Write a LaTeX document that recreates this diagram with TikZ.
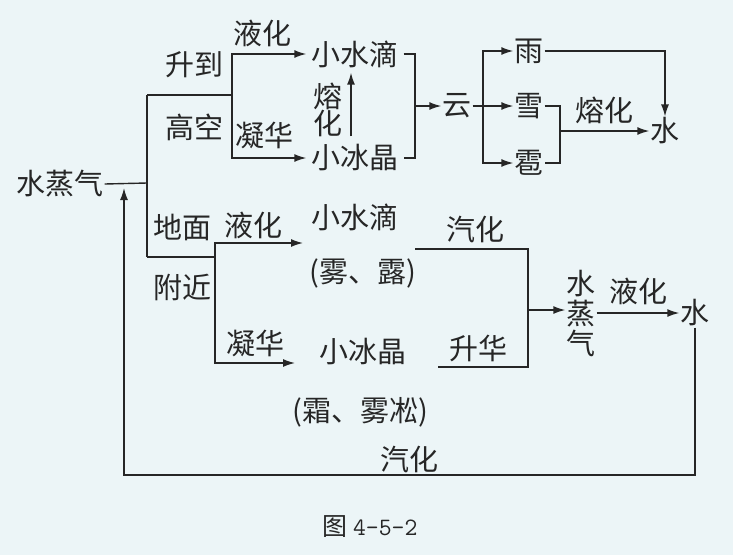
\documentclass[tikz,border=0pt]{standalone}
\usepackage{fontspec}
\usepackage{xcolor}
\usepackage{tikz}
\usetikzlibrary{arrows.meta, positioning}
\newfontfamily\cjk{Noto Sans CJK SC}
\definecolor{paper}{RGB}{236,245,247}
\definecolor{ink}{RGB}{38,38,38}

\begin{document}
\begin{tikzpicture}[
    x=1pt, y=-1pt,
    font=\cjk\fontsize{29}{31}\selectfont,
    every node/.style={text=ink, inner sep=1pt},
    term/.style={inner xsep=5pt},
    single/.style={inner xsep=1pt},
    lbl/.style={inner sep=0pt},
    column/.style={align=center, inner xsep=1pt},
    ln/.style={draw=ink, line width=1.4pt},
    arr/.style={ln, -{Latex[length=12pt, width=8pt]}},
]
\fill[paper] (0,0) rectangle (733,555);
\useasboundingbox (0,0) rectangle (733,555);

\node (vapA) at (60,184) {水蒸气};
\coordinate (trunk) at (147,183);
\coordinate (vapTip) at (124,183);
\coordinate (highA) at (147,95);
\coordinate (groundA) at (147,257);
\draw[ln] (vapA.east) -- (trunk);
\draw[ln] (highA) -- (groundA);

% high sky
\coordinate (highB) at (232,95);
\node[term] (dropA) at (355,54) {小水滴};
\node[term] (iceA) at (355,158) {小冰晶};
\draw[ln] (highA) -- (highB);
\draw[arr] (highB) |- (dropA.west);
\draw[arr] (highB) |- (iceA.west);
\draw[arr, shorten <=7pt, shorten >=4pt] ([xshift=-4pt]iceA.north) -- ([xshift=-4pt]dropA.south);
\node[lbl, font=\cjk\fontsize{29}{27}\selectfont, align=center] (meltA) at (328,110) {熔\\化};

\node[lbl] (upA) at (194,65) {升到};
\node[lbl] (skyA) at (194,127) {高空};
\node[lbl] (liqA) at (262,33) {液化};
\node[lbl] (depA) at (264,135) {凝华};

\coordinate (brA) at (415,106);
\node[single] (cloud) at (457,106) {云};
\draw[ln] (dropA.east) -| (brA) |- (iceA.east);
\draw[arr] (brA) -- (cloud.west);

\coordinate (skyB) at (483,106);
\node[single] (rain) at (529,51) {雨};
\node[single] (snow) at (529,106) {雪};
\node[single] (hail) at (529,163) {雹};
\draw[ln] (cloud.east) -- (skyB);
\draw[arr] (skyB) |- (rain.west);
\draw[arr] (skyB) -- (snow.west);
\draw[arr] (skyB) |- (hail.west);

\node[single] (waterA) at (665,131) {水};
\coordinate (brB) at (560,131);
\draw[arr] (rain.east) -| (waterA.north);
\draw[ln] (snow.east) -| (brB) |- (hail.east);
\draw[arr] (brB) -- node[lbl, above=6pt]{熔化} (waterA.west);

% near the ground
\coordinate (groundB) at (215,257);
\coordinate (tipB) at (303,243);
\coordinate (tipC) at (295,363);
\draw[ln] (groundA) -- (groundB);
\draw[arr] (groundB) |- (tipB);
\draw[arr] (groundB) |- (tipC);

\node[lbl] (surf) at (182,227) {地面};
\node[lbl] (nearby) at (182,287) {附近};
\node[lbl] (liqB) at (253,225) {液化};
\node[lbl] (depB) at (255,343) {凝华};

\node (dropB) at (355,217) {小水滴};
\node (fogB) at (363,273) {(雾、露)};
\node (iceB) at (363,352) {小冰晶};
\node (frostB) at (360,412) {(霜、雾凇)};

\coordinate (evapL) at (415,249);
\coordinate (subL) at (438,367);
\coordinate (brC) at (528,310);
\draw[ln] (evapL) -| (brC) |- (subL);
\node[lbl] (evapA) at (475,230) {汽化};
\node[lbl] (subA) at (478,348) {升华};

\node[column, font=\cjk\fontsize{29}{30}\selectfont] (vapB) at (581,313) {水\\蒸\\气};
\node[single] (waterB) at (695,313) {水};
\draw[arr] (brC) -- (brC -| vapB.west);
\draw[arr] (vapB.east) -- node[lbl, above=7pt]{液化} (waterB.west);

\coordinate (loopL) at (124,475);
\draw[arr, shorten >=5pt] (waterB.south) |- node[lbl, above=1pt, pos=0.75]{汽化} (loopL) -- (vapTip);

\node (cap) at (370,527) {\fontsize{25}{28}\selectfont 图 {\ttfamily 4-5-2}};
\end{tikzpicture}
\end{document}
